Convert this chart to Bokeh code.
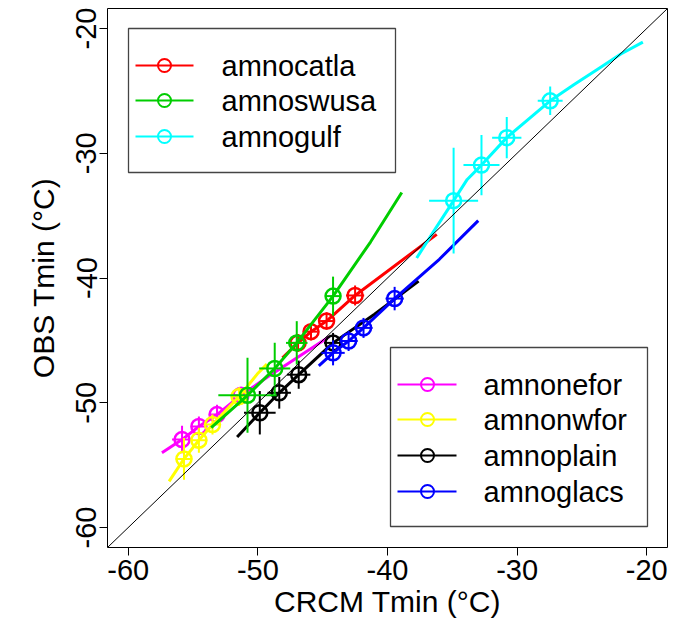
import numpy as np
from bokeh.plotting import figure
from bokeh.models import Range1d, FixedTicker, Slope
from bokeh.core.properties import value
from bokeh.embed import file_html
from bokeh.resources import INLINE

# ---------------- data ----------------
names = ["amnocatla", "amnoswusa", "amnogulf", "amnonefor", "amnonwfor", "amnoplain", "amnoglacs"]
colors = ["#FF0000", "#00CD00", "#00FFFF", "#FF00FF", "#FFFF00", "#000000", "#0000FF"]
tick_values = [-60, -50, -40, -30, -20]
tick_labels = ["-60", "-50", "-40", "-30", "-20"]

catla_x = [-46.9, -45.9, -44.7, -42.5]
catla_y = [-45.2, -44.3, -43.45, -41.4]
catla_xerr = [0.5, 0.5, 0.5, 0.7]
catla_yerr = [0.7, 0.7, 0.7, 0.8]
catla_line_x = [-48.1, -46.9, -45.9, -44.7, -42.5, -36.2]
catla_line_y = [-46.4, -45.2, -44.3, -43.45, -41.4, -36.5]

swusa_x = [-50.8, -48.7, -47.0, -44.2]
swusa_y = [-49.4, -47.25, -45.2, -41.45]
swusa_xerr = [2.25, 1.2, 0.83, 0.58]
swusa_yerr = [3.0, 2.06, 1.74, 1.56]
swusa_line_x = [-53.6, -50.8, -48.7, -47.0, -44.2, -41.3, -38.9]
swusa_line_y = [-52.0, -49.4, -47.25, -45.2, -41.45, -37.1, -33.15]

gulf_x = [-34.9, -32.75, -30.8, -27.45]
gulf_y = [-33.8, -30.95, -28.75, -25.8]
gulf_xerr = [1.89, 1.39, 1.13, 0.96]
gulf_yerr = [4.24, 2.41, 1.65, 1.14]
gulf_line_x = [-37.75, -36.4, -34.9, -33.85, -32.75, -30.8, -27.45, -25.6, -23.55, -22.0, -20.3]
gulf_line_y = [-38.4, -36.2, -33.8, -32.1, -30.95, -28.75, -25.8, -24.5, -23.1, -22.05, -21.1]

nefor_x = [-55.85, -54.55, -53.15, -51.3]
nefor_y = [-52.95, -51.9, -50.95, -49.4]
nefor_xerr = [0.77, 0.6, 0.6, 0.5]
nefor_yerr = [1.1, 0.8, 0.8, 0.6]
nefor_line_x = [-57.4, -55.85, -54.55, -53.15, -51.3, -49.2, -44.5]
nefor_line_y = [-54.0, -52.95, -51.9, -50.95, -49.4, -47.9, -44.7]

nwfor_x = [-55.7, -54.55, -53.5, -51.45]
nwfor_y = [-54.5, -53.0, -51.75, -49.5]
nwfor_xerr = [0.64, 0.64, 0.64, 0.64]
nwfor_yerr = [1.67, 1.0, 0.8, 0.75]
nwfor_line_x = [-56.85, -55.7, -54.55, -53.5, -51.45, -50.05, -49.3]
nwfor_line_y = [-56.3, -54.5, -53.0, -51.75, -49.5, -47.7, -46.9]

plain_x = [-49.85, -48.35, -46.85, -44.2]
plain_y = [-50.8, -49.2, -47.75, -45.2]
plain_xerr = [1.22, 0.9, 0.9, 0.7]
plain_yerr = [1.74, 1.27, 1.13, 0.8]
plain_line_x = [-51.6, -49.85, -48.35, -46.85, -44.2, -41.0, -37.6]
plain_line_y = [-52.75, -50.8, -49.2, -47.75, -45.2, -42.9, -40.25]

glacs_x = [-44.2, -43.0, -41.85, -39.45]
glacs_y = [-46.0, -45.05, -44.0, -41.65]
glacs_xerr = [0.9, 0.7, 0.7, 0.7]
glacs_yerr = [1.0, 0.8, 0.8, 0.94]
glacs_line_x = [-45.3, -44.2, -43.0, -41.85, -39.45, -36.0, -33.0]
glacs_line_y = [-47.05, -46.0, -45.05, -44.0, -41.65, -38.5, -35.4]

# ---------------- layout ----------------
W, H = 683, 625
BL, BR, BT, BB = 107, 16, 8, 78
X0, X1 = -61.6, -18.4
Y0, Y1 = -61.6, -18.4
FW, FH = W - BL - BR, H - BT - BB
FONT = "Liberation Sans"

def sx(px):
    return X0 + (px - BL) * (X1 - X0) / FW

def sy(py):
    return Y1 - (py - BT) * (Y1 - Y0) / FH

p = figure(width=W, height=H, output_backend="svg", toolbar_location=None,
           x_range=Range1d(X0, X1), y_range=Range1d(Y0, Y1),
           min_border_left=BL, min_border_right=BR, min_border_top=BT, min_border_bottom=BB,
           x_axis_label="CRCM Tmin (°C)", y_axis_label="OBS Tmin (°C)")
p.grid.visible = False
p.outline_line_color = "black"
p.outline_line_width = 1
p.background_fill_color = "white"
p.border_fill_color = "white"

for ax in (p.xaxis[0], p.yaxis[0]):
    ax.ticker = FixedTicker(ticks=tick_values)
    ax.major_label_overrides = {v: t for v, t in zip(tick_values, tick_labels)}
    ax.axis_line_color = None
    ax.major_tick_out = 8
    ax.major_tick_in = 0
    ax.minor_tick_line_color = None
    ax.major_tick_line_color = "black"
    ax.major_label_text_font = FONT
    ax.major_label_text_font_size = "29px"
    ax.major_label_text_color = "black"
    ax.axis_label_text_font = FONT
    ax.axis_label_text_font_size = "30px"
    ax.axis_label_text_font_style = "normal"
    ax.axis_label_text_color = "black"
p.xaxis.major_label_standoff = 4
p.xaxis.axis_label_standoff = 2
p.yaxis.major_label_standoff = 3
p.yaxis.axis_label_standoff = 14
p.yaxis.major_label_orientation = "vertical"

series = {
    "amnonefor": (nefor_x, nefor_y, nefor_xerr, nefor_yerr, nefor_line_x, nefor_line_y),
    "amnonwfor": (nwfor_x, nwfor_y, nwfor_xerr, nwfor_yerr, nwfor_line_x, nwfor_line_y),
    "amnoplain": (plain_x, plain_y, plain_xerr, plain_yerr, plain_line_x, plain_line_y),
    "amnoglacs": (glacs_x, glacs_y, glacs_xerr, glacs_yerr, glacs_line_x, glacs_line_y),
    "amnocatla": (catla_x, catla_y, catla_xerr, catla_yerr, catla_line_x, catla_line_y),
    "amnoswusa": (swusa_x, swusa_y, swusa_xerr, swusa_yerr, swusa_line_x, swusa_line_y),
    "amnogulf": (gulf_x, gulf_y, gulf_xerr, gulf_yerr, gulf_line_x, gulf_line_y),
}
color_of = dict(zip(names, colors))

for name, (mx, my, ex, ey, lx, ly) in series.items():
    c = color_of[name]
    mx, my, ex, ey = map(np.asarray, (mx, my, ex, ey))
    p.line(lx, ly, line_color=c, line_width=3)
    p.segment(x0=mx - ex, y0=my, x1=mx + ex, y1=my, line_color=c, line_width=2)
    p.segment(x0=mx, y0=my - ey, x1=mx, y1=my + ey, line_color=c, line_width=2)
    p.scatter(mx, my, marker="circle", size=15, fill_color=None, line_color=c, line_width=2.5)

p.add_layout(Slope(gradient=1, y_intercept=0, line_color="black", line_width=1))

# ---------------- legends ----------------
def draw_legend(labels, box, line_px, circ_px, text_px, rows):
    left, right, top, bottom = box
    p.quad(left=sx(left), right=sx(right), top=sy(top), bottom=sy(bottom),
           fill_color="white", line_color="#444444", line_width=1.3)
    for lab, row in zip(labels, rows):
        c = color_of[lab]
        p.segment(x0=sx(line_px[0]), y0=sy(row), x1=sx(line_px[1]), y1=sy(row),
                  line_color=c, line_width=2)
        p.scatter([sx(circ_px)], [sy(row)], marker="circle", size=13,
                  fill_color=None, line_color=c, line_width=2)
        p.text([sx(text_px)], [sy(row)], text=[lab], text_baseline="middle",
               text_align="left", text_font=value(FONT),
               text_font_size=value("29px"), text_color="black")

draw_legend(names[:3], (128, 395, 28, 172), (135, 193), 164, 221, [65, 100, 136])
draw_legend(names[3:], (390, 647, 347, 526), (397, 456), 427, 483, [384, 419, 455, 491])

open("out.html", "w").write(file_html(p, INLINE))
